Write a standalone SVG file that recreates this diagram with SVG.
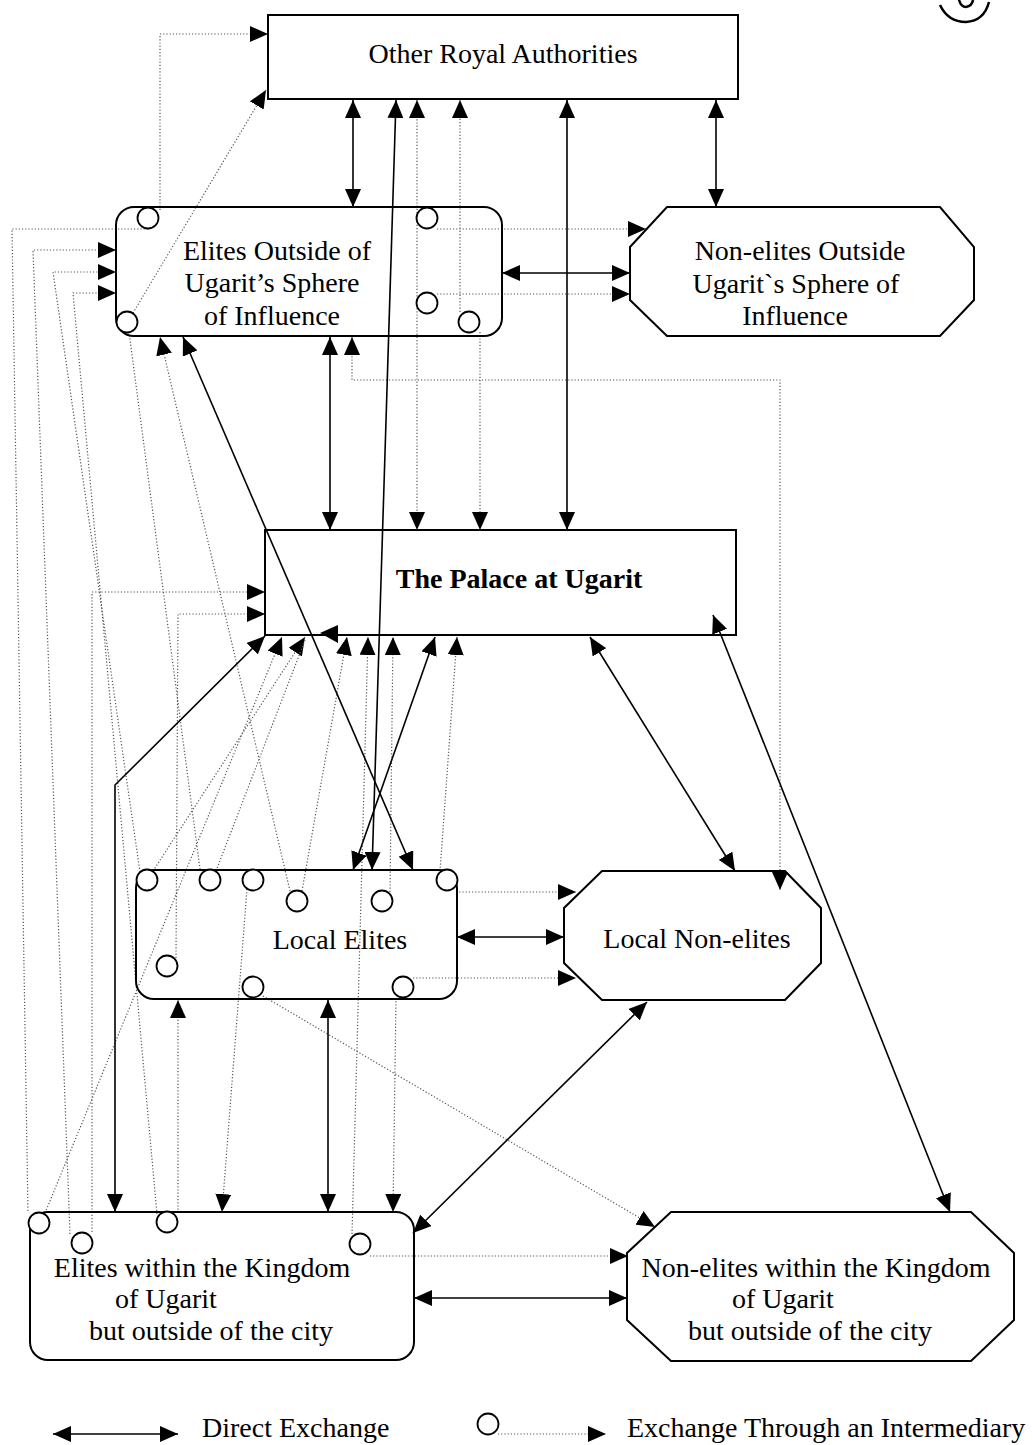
<svg xmlns="http://www.w3.org/2000/svg" width="1033" height="1445" viewBox="0 0 1033 1445">
<defs>
<marker id="ah" viewBox="0 0 18 16" refX="18" refY="8" markerWidth="18" markerHeight="16" markerUnits="userSpaceOnUse" orient="auto-start-reverse">
<path d="M0,0 L18,8 L0,16 Z" fill="#000"/>
</marker>
<style>
.box{fill:none;stroke:#000;stroke-width:2}
.t{font-family:"Liberation Serif","Times New Roman",serif;font-size:28px;fill:#000}
.m{text-anchor:middle}
.b{font-weight:bold}
.sol{fill:none;stroke:#000;stroke-width:1.6}
.dot{fill:none;stroke:#555;stroke-width:1.2;stroke-dasharray:1.2 2}
.c{fill:#fff;stroke:#000;stroke-width:1.8}
</style>
</defs>
<rect width="1033" height="1445" fill="#fff"/>

<g id="connectors">
<!-- dotted (intermediary) -->
<path class="dot" d="M160,210 V34 H268" marker-end="url(#ah)"/>
<path class="dot" d="M133,313 L266,90" marker-end="url(#ah)"/>
<path class="dot" d="M437,229 H646" marker-end="url(#ah)"/>
<path class="dot" d="M437,294 H630" marker-end="url(#ah)"/>
<path class="dot" d="M417,100 V530" marker-start="url(#ah)" marker-end="url(#ah)"/>
<path class="dot" d="M460,312 V100" marker-end="url(#ah)"/>
<path class="dot" d="M480,332 V530" marker-end="url(#ah)"/>
<path class="dot" d="M352,337 V380 H780 V890" marker-start="url(#ah)" marker-end="url(#ah)"/>
<path class="dot" d="M148,229 H12 L28,1213"/>
<path class="dot" d="M70,1234 L33,250 H116" marker-end="url(#ah)"/>
<path class="dot" d="M140,872 L53,272 H116" marker-end="url(#ah)"/>
<path class="dot" d="M157,1214 L73,293 H116" marker-end="url(#ah)"/>
<path class="dot" d="M92,1232 V592 H265" marker-end="url(#ah)"/>
<path class="dot" d="M176,958 L178,614 H265" marker-end="url(#ah)"/>
<path class="dot" d="M178,1213 V1000" marker-end="url(#ah)"/>
<path class="dot" d="M290,891 L160,337" marker-end="url(#ah)"/>
<path class="dot" d="M129,332 L200,869"/>
<path class="dot" d="M45,1213 L282,637" marker-end="url(#ah)"/>
<path class="dot" d="M153,871 L305,637" marker-end="url(#ah)"/>
<path class="dot" d="M216,871 L305,640"/>
<path class="dot" d="M302,891 L347,637" marker-end="url(#ah)"/>
<path class="dot" d="M352,1234 L368,637" marker-end="url(#ah)"/>
<path class="dot" d="M390,892 L393,637" marker-end="url(#ah)"/>
<path class="dot" d="M440,871 L457,637" marker-end="url(#ah)"/>
<path class="dot" d="M456,892 H576" marker-end="url(#ah)"/>
<path class="dot" d="M413,978 H576" marker-end="url(#ah)"/>
<path class="dot" d="M396,998 L393,1212" marker-end="url(#ah)"/>
<path class="dot" d="M247,889 L222,1212" marker-end="url(#ah)"/>
<path class="dot" d="M263,996 L655,1227" marker-end="url(#ah)"/>
<path class="dot" d="M370,1256 H628" marker-end="url(#ah)"/>
<path d="M338,625 L320,633 L338,643 Z" fill="#000"/>

<!-- solid (direct exchange) -->
<path class="sol" d="M353,100 V207" marker-start="url(#ah)" marker-end="url(#ah)"/>
<path class="sol" d="M716,100 V207" marker-start="url(#ah)" marker-end="url(#ah)"/>
<path class="sol" d="M502,273 H630" marker-start="url(#ah)" marker-end="url(#ah)"/>
<path class="sol" d="M330,337 V530" marker-start="url(#ah)" marker-end="url(#ah)"/>
<path class="sol" d="M567,100 V530" marker-start="url(#ah)" marker-end="url(#ah)"/>
<path class="sol" d="M396,100 L372,870" marker-start="url(#ah)" marker-end="url(#ah)"/>
<path class="sol" d="M183,337 L413,870" marker-start="url(#ah)" marker-end="url(#ah)"/>
<path class="sol" d="M435,637 L353,870" marker-start="url(#ah)" marker-end="url(#ah)"/>
<path class="sol" d="M590,637 L735,871" marker-start="url(#ah)" marker-end="url(#ah)"/>
<path class="sol" d="M713,615 L950,1212" marker-start="url(#ah)" marker-end="url(#ah)"/>
<path class="sol" d="M265,636 L115,785 V1212" marker-start="url(#ah)" marker-end="url(#ah)"/>
<path class="sol" d="M328,1000 V1212" marker-start="url(#ah)" marker-end="url(#ah)"/>
<path class="sol" d="M457,937 H564" marker-start="url(#ah)" marker-end="url(#ah)"/>
<path class="sol" d="M647,1002 L413,1233" marker-start="url(#ah)" marker-end="url(#ah)"/>
<path class="sol" d="M414,1298 H627" marker-start="url(#ah)" marker-end="url(#ah)"/>
</g>

<g id="ora">
<rect class="box" x="268" y="15" width="470" height="84"/>
<text class="t m" x="503" y="63">Other Royal Authorities</text>
</g>

<g id="eos">
<rect class="box" x="116" y="207" width="386" height="129" rx="18"/>
<text class="t m" x="277" y="260">Elites Outside of</text>
<text class="t m" x="272" y="292">Ugarit’s Sphere</text>
<text class="t m" x="272" y="325">of Influence</text>
<circle class="c" cx="148" cy="218" r="10.5"/>
<circle class="c" cx="127" cy="322" r="10.5"/>
<circle class="c" cx="427" cy="218" r="10.5"/>
<circle class="c" cx="427" cy="303" r="10.5"/>
<circle class="c" cx="469" cy="322" r="10.5"/>
</g>

<g id="neos">
<polygon class="box" points="667,207 940,207 974,247 974,300 940,336 667,336 630,300 630,247"/>
<text class="t m" x="800" y="260">Non-elites Outside</text>
<text class="t m" x="796" y="293">Ugarit`s Sphere of</text>
<text class="t m" x="795" y="325">Influence</text>
</g>

<g id="palace">
<rect class="box" x="265" y="530" width="471" height="105"/>
<text class="t m b" x="519" y="588">The Palace at Ugarit</text>
</g>

<g id="local-elites">
<rect class="box" x="136" y="870" width="321" height="129" rx="18"/>
<text class="t m" x="340" y="949">Local Elites</text>
<circle class="c" cx="147" cy="880" r="10.5"/>
<circle class="c" cx="210" cy="880" r="10.5"/>
<circle class="c" cx="253" cy="880" r="10.5"/>
<circle class="c" cx="297" cy="901" r="10.5"/>
<circle class="c" cx="382" cy="901" r="10.5"/>
<circle class="c" cx="447" cy="880" r="10.5"/>
<circle class="c" cx="167" cy="966" r="10.5"/>
<circle class="c" cx="253" cy="987" r="10.5"/>
<circle class="c" cx="403" cy="987" r="10.5"/>
</g>

<g id="local-non-elites">
<polygon class="box" points="602,871 785,871 821,908 821,963 785,1000 602,1000 564,963 564,908"/>
<text class="t m" x="697" y="948">Local Non-elites</text>
</g>

<g id="elites-kingdom">
<rect class="box" x="30" y="1212" width="384" height="148" rx="18"/>
<text class="t m" x="202" y="1277">Elites within the Kingdom</text>
<text class="t" x="115" y="1308">of Ugarit</text>
<text class="t m" x="211" y="1340">but outside of the city</text>
<circle class="c" cx="39" cy="1223" r="10.5"/>
<circle class="c" cx="82" cy="1243" r="10.5"/>
<circle class="c" cx="167" cy="1222" r="10.5"/>
<circle class="c" cx="360" cy="1244" r="10.5"/>
</g>

<g id="non-elites-kingdom">
<polygon class="box" points="671,1212 971,1212 1014,1253 1014,1320 971,1361 671,1361 627,1320 627,1253"/>
<text class="t m" x="816" y="1277">Non-elites within the Kingdom</text>
<text class="t" x="732" y="1308">of Ugarit</text>
<text class="t m" x="810" y="1340">but outside of the city</text>
</g>

<g id="legend">
<path class="sol" d="M53,1434 H178" marker-start="url(#ah)" marker-end="url(#ah)"/>
<text class="t" x="202" y="1437">Direct Exchange</text>
<circle class="c" cx="488" cy="1424" r="10.5"/>
<path class="dot" d="M498,1434 H606" marker-end="url(#ah)"/>
<text class="t" x="627" y="1437">Exchange Through an Intermediary</text>
</g>

<g id="annotation" fill="none" stroke="#000" stroke-width="2.5">
<path d="M940,5 Q948,22 966,22 Q984,21 989,2"/>
<path d="M959,0 Q961,7 966,7 Q972,6 973,0"/>
</g>
</svg>
